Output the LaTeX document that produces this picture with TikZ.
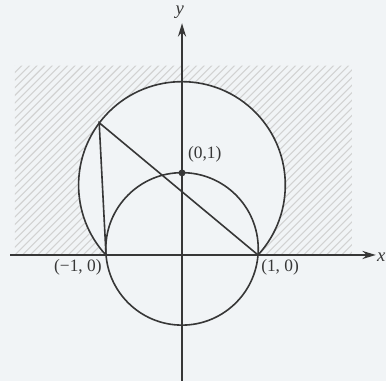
\documentclass[tikz,border=0pt]{standalone}
\usepackage{fontspec}
\setmainfont{Liberation Serif}
\usetikzlibrary{arrows.meta,calc,positioning}
\definecolor{paper}{RGB}{241,244,246}
\definecolor{ink}{RGB}{55,55,55}
\tikzset{axis/.style={-{Stealth[length=5pt,width=3pt]}, line width=0.8pt, ink},
  curve/.style={line width=0.6pt, ink},
  hatch/.style={line width=0.4pt, gray!35},
  lbl/.style={font=\fontsize{6.5}{7}\selectfont, text=ink, inner sep=0.5pt}}

\begin{document}
\begin{tikzpicture}
  \useasboundingbox[fill=paper] (-2.395,-1.658) rectangle (2.684,3.355);
  % points
  \coordinate (O) at (0,0);
  \coordinate (A) at (-1,0);
  \coordinate (B) at (1,0);
  \coordinate (C) at (0,0.92);
  \coordinate (P) at (-1.09,1.74);
  \coordinate (Q) at (0,1.08);
  % shaded part: box minus big circle
  \begin{scope}
    \clip (-2.2,0) rectangle (2.24,2.49);
    \begin{scope}[even odd rule]
      \clip (-2.2,-0.5) rectangle (2.24,2.49) (C) circle (1.36);
      \foreach \b in {-4.7,-4.6,...,4.7}
        \draw[hatch] (-2.4,-2.4+\b) -- (2.4,2.4+\b);
    \end{scope}
  \end{scope}
  % axes
  \coordinate (xl) at (-2.26,0);
  \coordinate (xr) at (2.55,0);
  \coordinate (yb) at (0,-1.7);
  \coordinate (yt) at (0,3.05);
  \draw[axis] (xl) -- (xr);
  \draw[axis] (yb) -- (yt);
  \node[lbl, font=\fontsize{7}{8}\selectfont\itshape] (ylab) at (-0.03,3.2) {y};
  \node[lbl, font=\fontsize{7}{8}\selectfont\itshape, anchor=east, inner sep=0pt] (xlab) at (2.684,-0.03) {x};
  % big circle, upper arc only
  \draw[curve] (B) arc[start angle=-42.6, end angle=222.6, radius=1.36];
  \draw[curve] (0,0.08) circle (1.003);
  % triangle
  \draw[curve] (A) -- (P) -- (B);
  \fill[ink] (Q) circle (1.3pt);
  % labels
  \node[lbl] (q) at (0.30,1.32) {(0,1)};
  \node[lbl] (a) at (-1.37,-0.16) {(\textminus1, 0)};
  \node[lbl] (b) at (1.29,-0.16) {(1, 0)};
\end{tikzpicture}
\end{document}
